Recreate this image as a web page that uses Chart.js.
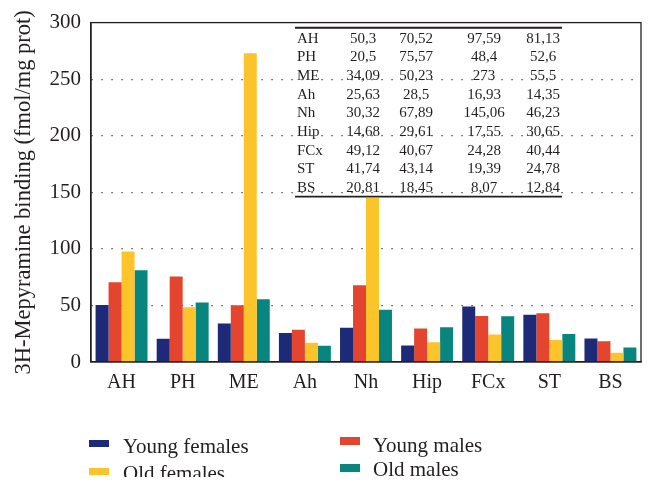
<!DOCTYPE html>
<html>
<head>
<meta charset="utf-8">
<script src="https://cdn.jsdelivr.net/npm/chart.js@4"></script>
<style>
  html, body { margin: 0; padding: 0; background: #ffffff; }
  #wrap { width: 656px; height: 492px; position: relative; }
</style>
</head>
<body>
<div id="wrap"><canvas id="c" width="656" height="492"></canvas></div>
<script>
// ---- data ----
const categories = ['AH', 'PH', 'ME', 'Ah', 'Nh', 'Hip', 'FCx', 'ST', 'BS'];
const seriesNames = ['Young females', 'Young males', 'Old females', 'Old males'];
const youngFemales = [50.3, 20.5, 34.09, 25.63, 30.32, 14.68, 49.12, 41.74, 20.81];
const youngMales   = [70.52, 75.57, 50.23, 28.5, 67.89, 29.61, 40.67, 43.14, 18.45];
const oldFemales   = [97.59, 48.4, 273, 16.93, 145.06, 17.55, 24.28, 19.39, 8.07];
const oldMales     = [81.13, 52.6, 55.5, 14.35, 46.23, 30.65, 40.44, 24.78, 12.84];
const yTicks = [0, 50, 100, 150, 200, 250, 300];
const yTitle = '3H-Mepyramine binding (fmol/mg prot)';

// ---- styles ----
const colors = ['#1c2a78', '#e5452f', '#fbc42a', '#07857e'];
const serif = "'Liberation Serif', 'DejaVu Serif', serif";
const ink = '#231f20';
const seriesValues = [youngFemales, youngMales, oldFemales, oldMales];

const fmt = v => String(v).replace('.', ',');

// frame around plot area
const framePlugin = {
  id: 'frame',
  afterDraw(chart) {
    const {ctx, chartArea: a} = chart;
    ctx.save();
    ctx.strokeStyle = ink;
    ctx.lineWidth = 1.3;
    ctx.strokeRect(a.left, a.top, a.right - a.left, a.bottom - a.top);
    ctx.restore();
  }
};

// inset data table (from the same arrays)
const tablePlugin = {
  id: 'table',
  afterDatasetsDraw(chart) {
    const {ctx} = chart;
    const labelX = 297;
    const colX = [363, 416, 484, 543];
    const firstBase = 42.7;
    const step = 18.66;
    ctx.save();
    ctx.fillStyle = ink;
    ctx.font = '15px ' + serif;
    ctx.textBaseline = 'alphabetic';
    categories.forEach((cat, i) => {
      const y = firstBase + i * step;
      ctx.textAlign = 'left';
      ctx.fillText(cat, labelX, y);
      ctx.textAlign = 'center';
      seriesValues.forEach((arr, j) => ctx.fillText(fmt(arr[i]), colX[j], y));
    });
    ctx.strokeStyle = ink;
    ctx.lineWidth = 2;
    ctx.beginPath(); ctx.moveTo(295, 27.7); ctx.lineTo(562, 27.7); ctx.stroke();
    ctx.lineWidth = 1.6;
    ctx.beginPath(); ctx.moveTo(295, 196.6); ctx.lineTo(562, 196.6); ctx.stroke();
    ctx.restore();
  }
};

// two-column legend below the chart
const legendPlugin = {
  id: 'customLegend',
  afterDraw(chart) {
    const {ctx} = chart;
    const layout = [
      {bx: 89, by: 440, bh: 7, tx: 123, ty: 452.5},
      {bx: 340, by: 437, bh: 8, tx: 373, ty: 451.5},
      {bx: 89, by: 468, bh: 7, tx: 123, ty: 479.5},
      {bx: 340, by: 464, bh: 8, tx: 373, ty: 476}
    ];
    ctx.save();
    ctx.beginPath();
    ctx.rect(0, 0, 656, 477);
    ctx.clip();
    ctx.font = '21px ' + serif;
    ctx.textAlign = 'left';
    ctx.textBaseline = 'alphabetic';
    chart.data.datasets.forEach((ds, i) => {
      const L = layout[i];
      ctx.fillStyle = ds.backgroundColor;
      ctx.fillRect(L.bx, L.by, 20, L.bh);
      ctx.fillStyle = ink;
      ctx.fillText(ds.label, L.tx, L.ty);
    });
    ctx.restore();
  }
};

new Chart(document.getElementById('c'), {
  type: 'bar',
  data: {
    labels: categories,
    datasets: seriesValues.map((vals, i) => ({
      label: seriesNames[i],
      data: vals,
      backgroundColor: colors[i],
      borderWidth: 0,
      barPercentage: 1.0,
      categoryPercentage: 0.85
    }))
  },
  options: {
    responsive: false,
    animation: false,
    devicePixelRatio: 1,
    layout: { padding: { top: 22, right: 15, left: 0, bottom: 0 } },
    plugins: { legend: { display: false }, tooltip: { enabled: false } },
    scales: {
      x: {
        grid: { display: false, drawTicks: false },
        border: { display: true, color: ink, width: 1.3 },
        ticks: { color: ink, font: { family: serif, size: 20 }, padding: 9, maxRotation: 0 },
        afterFit(scale) { scale.height = 130; }
      },
      y: {
        min: 0,
        max: 300,
        afterBuildTicks(scale) { scale.ticks = yTicks.map(v => ({ value: v })); },
        grid: {
          drawTicks: false,
          color: c => (c.tick && (c.tick.value === 0 || c.tick.value === 300)) ? 'rgba(0,0,0,0)' : '#555',
          lineWidth: 1.2
        },
        border: { display: true, color: ink, width: 1.3, dash: [1.5, 8.5] },
        ticks: { color: ink, font: { family: serif, size: 21 }, padding: 10 },
        title: {
          display: true,
          text: yTitle,
          color: ink,
          font: { family: serif, size: 22.5 },
          padding: { top: 11, bottom: 0 }
        },
        afterFit(scale) { scale.width = 91; }
      }
    }
  },
  plugins: [framePlugin, tablePlugin, legendPlugin]
});
</script>
</body>
</html>
